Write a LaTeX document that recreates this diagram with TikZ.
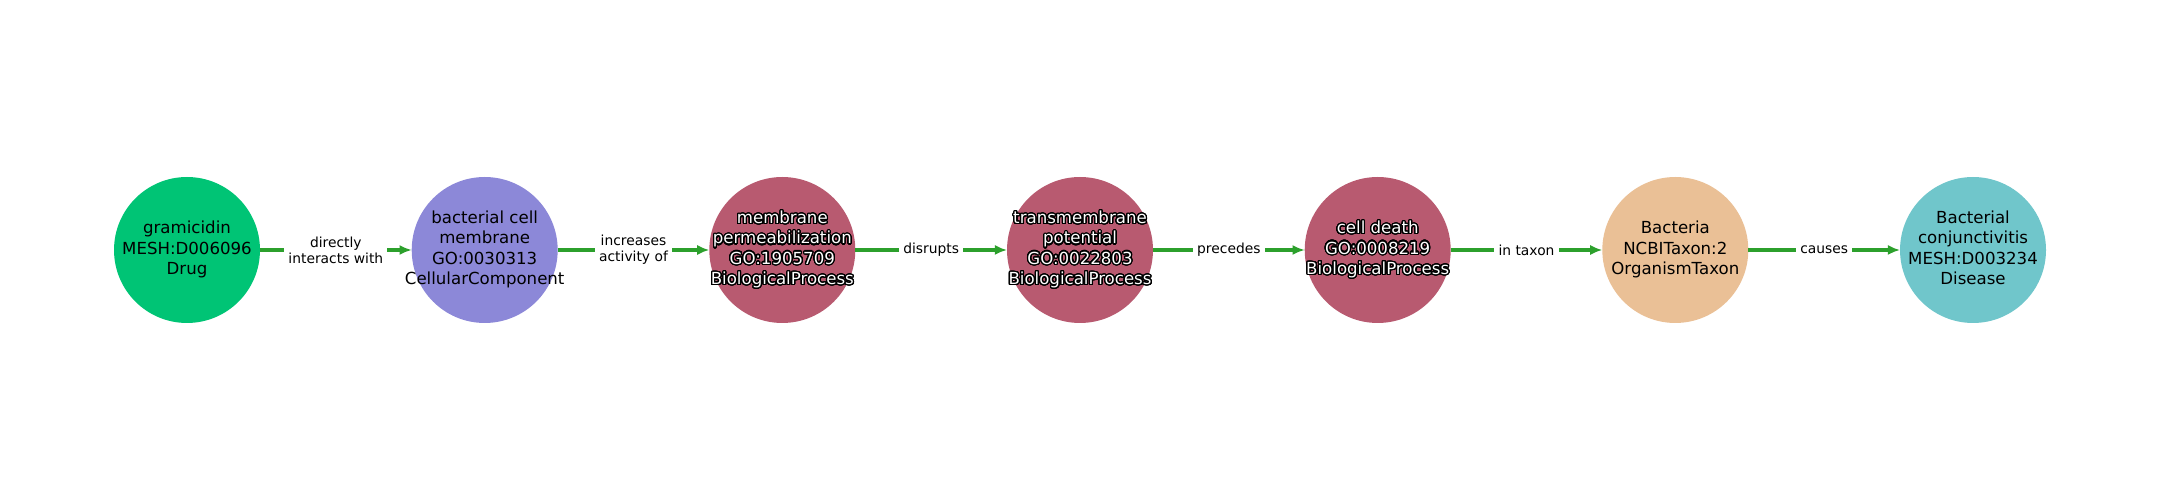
\documentclass[tikz,border=0pt]{standalone}
\usepackage{fontspec}
\setmainfont{DejaVu Sans}
\usepackage{contour}
\contourlength{0.9pt}
\contournumber{32}
\usetikzlibrary{arrows.meta}
\definecolor{drugcol}{RGB}{0,196,117}
\definecolor{cellcol}{RGB}{140,136,216}
\definecolor{proccol}{RGB}{184,90,112}
\definecolor{taxoncol}{RGB}{234,192,150}
\definecolor{diseasecol}{RGB}{112,198,203}
\definecolor{edgecol}{RGB}{44,160,44}
\newcommand{\wline}[1]{\contour{black}{#1}}
\newcommand{\ctext}[1]{\makebox[0pt][c]{\begin{tabular}{@{}c@{}}#1\end{tabular}}}
\tikzset{
  entity/.style={circle, draw=none, inner sep=0pt, outer sep=0pt,
    minimum size=3.708cm, text=black,
    font=\fontsize{12}{14.7}\selectfont},
  procent/.style={entity, fill=proccol, text=white},
  relation/.style={draw=edgecol, line width=2.9pt,
    -{Latex[length=3.1mm,width=2.6mm]}},
  rellabel/.style={fill=white, inner sep=3pt, align=center, text=black,
    font=\fontsize{10}{11.5}\selectfont}
}
\begin{document}
\begin{tikzpicture}[x=0.254mm,y=0.254mm]
            \useasboundingbox (0,0) rectangle (2160,500);
            
            % Marking entity gramicidin
            \node [entity, fill=drugcol] (drug) at (187,250) {\ctext{gramicidin\\MESH:D006096\\Drug}};
            
            % Marking entity bacterial cell membrane
            \node [entity, fill=cellcol] (membrane) at (484.7,250) {\ctext{bacterial cell\\membrane\\GO:0030313\\CellularComponent}};
            
            % Marking entity membrane permeabilization
            \node [procent] (permeab) at (782.3,250) {\ctext{\wline{membrane}\\\wline{permeabilization}\\\wline{GO:1905709}\\\wline{BiologicalProcess}}};
            
            % Marking entity transmembrane potential
            \node [procent] (potential) at (1080,250) {\ctext{\wline{transmembrane}\\\wline{potential}\\\wline{GO:0022803}\\\wline{BiologicalProcess}}};
            
            % Marking entity cell death
            \node [procent] (death) at (1377.7,250) {\ctext{\wline{cell death}\\\wline{GO:0008219}\\\wline{BiologicalProcess}}};
            
            % Marking entity Bacteria
            \node [entity, fill=taxoncol] (bacteria) at (1675.3,250) {\ctext{Bacteria\\NCBITaxon:2\\OrganismTaxon}};
            
            % Marking entity Bacterial conjunctivitis
            \node [entity, fill=diseasecol] (disease) at (1973,250) {\ctext{Bacterial\\conjunctivitis\\MESH:D003234\\Disease}};
            
            % Drawing relations
            \draw [relation] (drug) -- node [rellabel] {directly\\interacts with} (membrane);
            \draw [relation] (membrane) -- node [rellabel] {increases\\activity of} (permeab);
            \draw [relation] (permeab) -- node [rellabel] {disrupts} (potential);
            \draw [relation] (potential) -- node [rellabel] {precedes} (death);
            \draw [relation] (death) -- node [rellabel] {in taxon} (bacteria);
            \draw [relation] (bacteria) -- node [rellabel] {causes} (disease);
\end{tikzpicture}
\end{document}
